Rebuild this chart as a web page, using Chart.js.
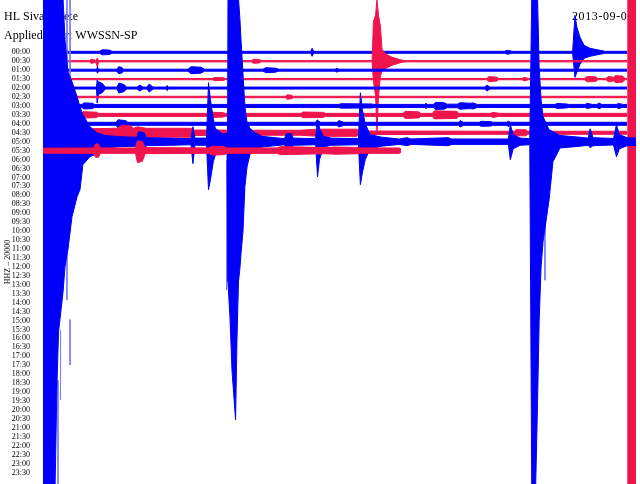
<!DOCTYPE html>
<html><head><meta charset="utf-8">
<script src="https://cdn.jsdelivr.net/npm/chart.js@4/dist/chart.umd.min.js"></script>
<style>html,body{margin:0;padding:0;background:#fff}#wrap{width:640px;height:484px;position:relative}</style>
</head><body><div id="wrap"><canvas id="c" width="640" height="484"></canvas></div>
<script>
// ---- texts ----
const stationTitle = 'HL Sivas Crete';
const filterTitle = 'Applied filter: WWSSN-SP';
const dateText = '2013-09-06';
const channelText = 'HHZ \u2013 20000';

// ---- row (tick) labels: one helicorder line per 30 minutes ----
const rowLabels = ['00:00','00:30','01:00','01:30','02:00','02:30','03:00','03:30','04:00','04:30',
 '05:00','05:30','06:00','06:30','07:00','07:30','08:00','08:30','09:00','09:30',
 '10:00','10:30','11:00','11:30','12:00','12:30','13:00','13:30','14:00','14:30',
 '15:00','15:30','16:00','16:30','17:00','17:30','18:00','18:30','19:00','19:30',
 '20:00','20:30','21:00','21:30','22:00','22:30','23:00','23:30'];

// ---- trace envelopes: [minute in line, amplitude up, amplitude down] (amplitude in line spacings) ----
const trace_0000 = [[0,0.11],[2.9,0.11],[3.05,0.28],[3.4,0.25],[3.55,0.11],[13.75,0.11],[13.82,0.45],[13.9,0.11],
 [23.7,0.11],[23.85,0.22],[24.1,0.11],[27.2,0.11],[27.32,4.14,2.8],[27.42,2.8,2.24],[27.58,1.68,1.34],
 [27.79,0.78,0.67],[28.09,0.45],[28.61,0.22],[28.87,0.11],[30,0.11]];
const trace_0030 = [[0,0.07],[2.4,0.07],[2.45,0.22],[2.6,0.2],[2.7,0.07],[2.79,0.34,0.67],[2.85,0.07],
 [10.7,0.07],[10.8,0.22],[11.1,0.2],[11.2,0.07],[16.9,0.07],[16.97,4.47,2.24],[17.08,5.15,3.9],
 [17.15,6.9,7.94],[17.23,5.15,4.0],[17.33,3.91,1.68],[17.41,1.34,1.12],[17.62,0.78],[17.93,0.45],
 [18.34,0.17],[18.59,0.07],[30,0.07]];
const trace_0100 = [[0,0.11],[2.75,0.11],[2.8,0.34],[2.85,0.11],[3.8,0.11],[3.88,0.39],[4.06,0.3],[4.12,0.11],
 [7.45,0.11],[7.6,0.39],[8.1,0.34],[8.3,0.11],[11.3,0.11],[11.45,0.28],[11.95,0.22],[12.1,0.11],
 [15.0,0.11],[15.1,0.22],[15.2,0.11],[30,0.11]];
const trace_0130 = [[0,0.07],[8.7,0.07],[8.8,0.17],[9.25,0.15],[9.35,0.07],[22.8,0.07],[22.9,0.28],[23.3,0.22],
 [23.4,0.07],[24.6,0.07],[24.7,0.2],[24.95,0.07],[27.8,0.07],[27.95,0.3],[28.4,0.25],[28.5,0.07],
 [28.9,0.07],[29.05,0.3],[29.3,0.2],[29.4,0.39],[29.75,0.34],[29.9,0.07],[30,0.07]];
const trace_0200 = [[0,0.11],[2.75,0.11],[2.78,0.89,1.68],[2.85,0.73],[3.05,0.5],[3.2,0.11],[3.8,0.11],
 [3.9,0.56],[4.15,0.4],[4.3,0.11],[4.85,0.11],[4.95,0.34],[5.15,0.11],[5.35,0.11],[5.45,0.45],[5.65,0.11],
 [6.3,0.11],[6.37,0.28],[6.45,0.11],[22.7,0.11],[22.8,0.34],[22.95,0.11],[30,0.11]];
const trace_0230 = [[0,0.08],[12.45,0.08],[12.55,0.25],[12.75,0.2],[12.85,0.08],[30,0.08]];
const trace_0300 = [[0,0.17],[2.0,0.17],[2.1,0.34],[2.55,0.3],[2.65,0.17],[15.2,0.17],[15.3,0.25],[16.9,0.22],
 [17.0,0.17],[19.6,0.17],[19.67,0.28],[19.75,0.17],[20.05,0.17],[20.15,0.4],[20.6,0.36],[20.75,0.2],
 [21.3,0.2],[21.4,0.36],[21.95,0.3],[22.1,0.34],[22.3,0.17],[26.3,0.17],[26.4,0.28],[26.9,0.22],
 [27.0,0.17],[27.85,0.17],[27.95,0.3],[28.2,0.17],[28.45,0.17],[28.55,0.32],[28.7,0.17],[29.45,0.17],
 [29.55,0.28],[29.8,0.17],[30,0.17]];
const trace_0330 = [[0,0.17],[2.0,0.17],[2.05,0.36],[2.75,0.3],[2.85,0.17],[8.45,0.17],[8.55,0.3],[9.25,0.25],
 [9.35,0.17],[13.25,0.17],[13.35,0.32],[14.4,0.28],[14.5,0.17],[18.5,0.17],[18.6,0.4],[19.3,0.34],
 [19.4,0.17],[20.0,0.17],[20.1,0.45],[21.25,0.4],[21.35,0.17],[23.0,0.17],[23.1,0.28],[23.45,0.17],[30,0.17]];
const trace_0400 = [[0,0.17],[3.75,0.17],[3.85,0.45],[4.25,0.36],[4.35,0.17],[14.0,0.17],[14.07,0.4],[14.25,0.17],
 [15.1,0.17],[15.2,0.36],[15.45,0.17],[21.35,0.17],[21.42,0.36],[21.6,0.17],[22.4,0.17],[22.5,0.28],
 [23.0,0.25],[23.1,0.17],[23.8,0.17],[23.9,0.3],[24.0,0.17],[30,0.17]];
const trace_0430 = [[0,0.2],[2.3,0.2],[2.4,0.45],[3.8,0.5],[4.0,0.78],[4.5,0.78],[4.65,0.5],[4.85,0.67],[5.3,0.5],
 [7.6,0.5],[7.75,0.3],[9.4,0.3],[10.8,0.28],[13.2,0.28],[14.1,0.4],[16.1,0.4],[16.3,0.2],[24.2,0.17],
 [24.3,0.34],[24.8,0.34],[24.9,0.17],[30,0.17]];
const trace_0500 = [[0,16,38.6],[0.62,16,38.6],[0.72,16,26.85],[0.8,16,21.25],[1.03,16,16.78],[1.13,11.41,13.98],
 [1.28,7.83,12.08],[1.49,6.71,8.39],[1.75,5.03,6.15],[1.9,3.91,5.37],[2.05,3.02,2.57],[2.41,1.68,1.68],
 [2.77,1.01,1.34],[3.18,0.7],[3.95,0.56],[4.83,0.5],[4.9,1.12],[5.2,1.0],[5.3,0.45],[6.5,0.4],[7.6,0.34],
 [7.7,1.68,2.46],[7.8,0.4],[8.4,0.4],[8.5,6.6,5.37],[8.6,4.7,4.25],[8.75,2.5,2.2],[8.85,1.5,1.5],[9.2,0.9],
 [9.45,0.9],[9.5,16,15.66],[9.6,16,19.57],[9.71,16,25.73],[9.89,16,31.1],[9.96,16,22.37],[10.04,16,15.66],
 [10.12,13.5,14.0],[10.17,11.41,12.5],[10.27,7.61,10.07],[10.37,3.91,5.0],[10.48,2.13,2.8],[10.63,1.5,1.4],
 [10.89,1.0],[11.25,0.6],[12.4,0.34],[12.5,0.9],[12.75,0.9],[12.85,0.4],[14.0,0.34],[14.1,2.46,3.91],
 [14.2,1.5,2.0],[14.4,0.6],[14.8,0.4],[16.2,0.34],[16.3,5.48,4.81],[16.4,3.6,3.5],[16.55,2.0,2.0],[16.8,0.8],
 [17.4,0.5],[18.3,0.3],[18.7,0.45],[18.9,0.3],[20.8,0.45],[21.0,0.3],[23.9,0.3],[24.0,1.9,2.01],[24.15,0.8],
 [24.5,0.4],[25.0,0.34],[25.1,16,38.6],[25.3,16,38.6],[25.4,16,29.08],[25.48,8.39,20.13],[25.58,4.7,13.98],
 [25.68,2.8,11.19],[25.99,1.34,6.49],[26.19,1.12,2.24],[26.55,0.7],[27.58,0.5],[28.0,0.4],[28.1,1.45,0.67],
 [28.25,0.45],[29.3,0.36],[29.45,1.9,1.68],[29.6,0.8],[30.0,0.45],[30.46,0.4]];
const trace_0530 = [[0,0.28],[2.6,0.3],[2.7,0.75],[2.85,0.75],[2.95,0.3],[4.75,0.3],[4.85,1.12,1.34],[5.1,1.0,1.2],
 [5.25,0.34],[8.5,0.3],[8.7,0.5],[9.3,0.45],[9.45,0.3],[12.0,0.3],[12.2,0.45],[13.3,0.4],[14.5,0.34],
 [15.0,0.4],[16.1,0.36],[16.3,0.3],[18.3,0.3],[18.39,0.15]];

// thin single-swing strokes of the large events: [minute, top line value, bottom line value]
const quakeStrokes = [[1.23,-5.85,5.9],[1.39,-5.85,6.46],[1.23,22.7,27.7],[1.39,29.9,34.98],[0.9,31.06,38.9],
 [0.77,36.7,48.3],[9.43,12.05,26.6],[25.78,15.4,25.5]];
// red end-of-record marker (minutes)
const endMarker = [30.0, 30.46];

const BLUE = '#0000fa', RED = '#f0144e', LIGHT = '#7b7bff';
const traces = [trace_0000,trace_0030,trace_0100,trace_0130,trace_0200,trace_0230,
 trace_0300,trace_0330,trace_0400,trace_0430,trace_0500,trace_0530];

const datasets = [];
function addBand(env, row, color, order){
  const up = env.map(p => ({x:p[0], y: row - p[1]}));
  const dn = env.map(p => ({x:p[0], y: row + (p.length > 2 ? p[2] : p[1])}));
  const common = {borderColor: color, backgroundColor: color, borderWidth: 1, pointRadius: 0, tension: 0, order};
  datasets.push(Object.assign({data: up, fill: false}, common));
  datasets.push(Object.assign({data: dn, fill: '-1'}, common));
}
traces.forEach((env, r) => {
  addBand(env, r, r % 2 === 0 ? BLUE : RED, 200 - r * 10);
});
const strokePts = [];
quakeStrokes.forEach(s => { strokePts.push({x:s[0], y:s[1]}, {x:s[0], y:s[2]}, {x:s[0], y:null}); });
datasets.push({data: strokePts, borderColor: LIGHT, borderWidth: 1, pointRadius: 0, fill: false, order: 101, spanGaps: false});
datasets.push({data: [{x:endMarker[0], y:-7}, {x:endMarker[1], y:-7}], borderWidth: 0, pointRadius: 0, fill: false, order: 105, borderColor: RED});
datasets.push({data: [{x:endMarker[0], y:50}, {x:endMarker[1], y:50}], borderWidth: 0, pointRadius: 0, fill: '-1', backgroundColor: RED, borderColor: RED, order: 105});

const textPlugin = {
  id: 'texts',
  beforeDatasetsDraw(chart){
    const ctx = chart.ctx;
    ctx.save();
    ctx.fillStyle = '#000';
    ctx.font = '12px "Liberation Serif"';
    ctx.textBaseline = 'alphabetic';
    ctx.fillText(stationTitle, 4, 20);
    ctx.fillText(filterTitle, 4, 39);
    ctx.letterSpacing = '0.6px';
    ctx.fillText(dateText, 572, 20);
    ctx.letterSpacing = '0px';
    ctx.font = '8px "Liberation Serif"';
    ctx.translate(8, 262);
    ctx.rotate(-Math.PI / 2);
    ctx.textAlign = 'center';
    ctx.textBaseline = 'middle';
    ctx.fillText(channelText, 0, 0);
    ctx.restore();
  }
};

Chart.defaults.font.family = '"Liberation Serif"';
new Chart(document.getElementById('c'), {
  type: 'line',
  data: { datasets },
  options: {
    responsive: false, animation: false, devicePixelRatio: 1, events: [],
    layout: { padding: 0 },
    plugins: { legend: { display: false }, tooltip: { enabled: false } },
    scales: {
      x: { type: 'linear', min: 0, max: 30.66, display: false },
      y: {
        type: 'linear', min: -5.85, max: 48.29, reverse: true,
        grid: { display: false }, border: { display: false },
        afterBuildTicks: s => { s.ticks = rowLabels.map((l, i) => ({ value: i })); },
        afterFit: s => { s.width = 43; s.paddingTop = 0; s.paddingBottom = 0; },
        ticks: { autoSkip: false, padding: 5, color: '#000', font: { size: 8 },
          callback: v => rowLabels[v] }
      }
    }
  },
  plugins: [textPlugin]
});
</script>
</body></html>
